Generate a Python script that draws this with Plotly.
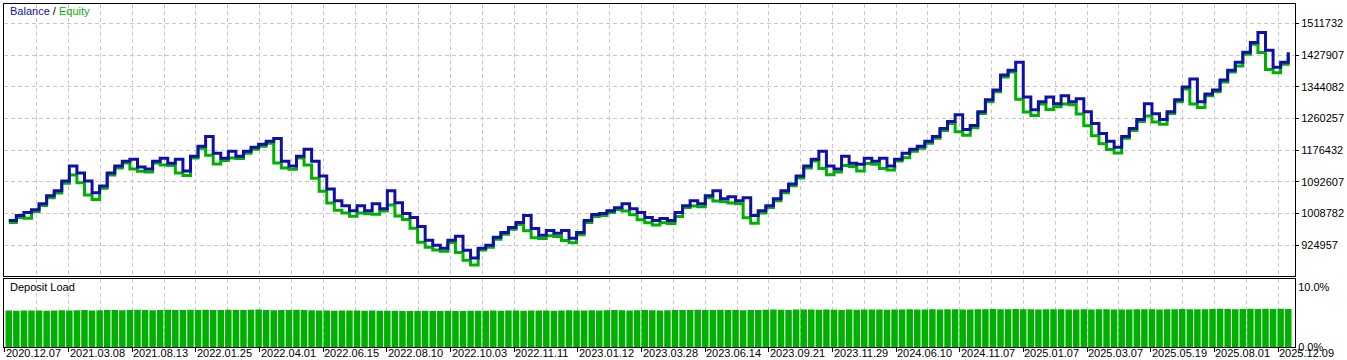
import plotly.graph_objects as go

# ---------------- data ----------------
balance_k = [
    990.4, 1003.5, 1011.4, 1019.2, 1035.0, 1055.9, 1069.0, 1095.2, 1134.5, 1116.1,
    1095.2, 1063.8, 1082.1, 1116.1, 1134.5, 1147.6, 1152.8, 1131.9, 1126.6, 1147.6,
    1155.4, 1142.3, 1152.8, 1121.4, 1160.7, 1186.9, 1213.1, 1168.5, 1155.4, 1173.8,
    1160.7, 1173.8, 1184.3, 1192.1, 1200.0, 1207.8, 1147.6, 1134.5, 1160.7, 1179.0,
    1147.6, 1108.3, 1074.2, 1042.8, 1029.7, 1016.6, 1029.7, 1016.6, 1035.0, 1021.8,
    1069.0, 1037.6, 1008.7, 998.3, 974.7, 938.0, 924.9, 917.1, 938.0, 948.5,
    911.8, 890.9, 917.1, 924.9, 945.9, 959.0, 972.1, 985.2, 1003.5, 969.5,
    951.1, 964.2, 956.4, 964.2, 943.3, 959.0, 990.4, 1006.1, 1008.7, 1016.6,
    1024.5, 1035.0, 1021.8, 1011.4, 998.3, 990.4, 995.6, 990.4, 1011.4, 1029.7,
    1042.8, 1035.0, 1055.9, 1069.0, 1048.0, 1053.3, 1042.8, 1050.7, 1003.5, 1016.6,
    1029.7, 1048.0, 1069.0, 1087.3, 1108.3, 1134.5, 1152.8, 1173.8, 1134.5, 1126.6,
    1160.7, 1142.3, 1139.7, 1155.4, 1147.6, 1155.4, 1134.5, 1152.8, 1168.5, 1179.0,
    1186.9, 1200.0, 1213.1, 1234.0, 1252.4, 1270.7, 1231.4, 1241.9, 1278.6, 1310.0,
    1336.2, 1375.5, 1388.6, 1409.5, 1317.8, 1283.8, 1304.8, 1317.8, 1299.5, 1320.5,
    1304.8, 1312.6, 1278.6, 1247.1, 1220.9, 1200.0, 1184.3, 1213.1, 1234.0, 1257.6,
    1299.5, 1273.3, 1257.6, 1278.6, 1310.0, 1344.0, 1365.0, 1304.8, 1325.7, 1336.2,
    1362.4, 1388.6, 1409.5, 1435.7, 1461.9, 1488.1, 1441.0, 1396.4, 1409.5, 1435.7,
]

equity_k = [
    985.4, 998.5, 996.4, 1014.2, 1030.0, 1050.9, 1063.0, 1089.2, 1111.1, 1090.2,
    1057.8, 1045.8, 1076.1, 1111.1, 1129.5, 1142.6, 1126.9, 1120.6, 1118.6, 1142.6,
    1137.3, 1136.3, 1116.4, 1109.4, 1155.7, 1181.9, 1163.5, 1140.4, 1149.4, 1155.7,
    1154.7, 1168.8, 1179.3, 1187.1, 1195.0, 1142.6, 1129.5, 1126.5, 1155.7, 1137.6,
    1102.3, 1068.2, 1036.8, 1017.7, 1010.6, 1001.6, 1010.6, 1008.6, 1006.8, 1015.8,
    1031.6, 1002.7, 993.3, 969.7, 933.0, 919.9, 912.1, 909.1, 932.0, 905.8,
    884.9, 872.9, 912.1, 919.9, 940.9, 954.0, 967.1, 980.2, 963.5, 945.1,
    943.1, 950.4, 948.4, 937.3, 931.3, 953.0, 985.4, 1001.1, 1003.7, 1011.6,
    1019.5, 1015.8, 1005.4, 992.3, 984.4, 978.4, 984.4, 982.4, 1001.4, 1024.7,
    1029.0, 1027.0, 1050.9, 1042.0, 1040.0, 1036.8, 1034.8, 997.5, 983.5, 1010.6,
    1024.7, 1043.0, 1064.0, 1082.3, 1103.3, 1129.5, 1147.8, 1128.5, 1111.6, 1118.6,
    1136.3, 1133.7, 1121.7, 1141.6, 1139.6, 1128.5, 1124.5, 1147.8, 1156.5, 1174.0,
    1181.9, 1195.0, 1208.1, 1229.0, 1247.4, 1225.4, 1216.4, 1235.9, 1273.6, 1305.0,
    1331.2, 1370.5, 1383.6, 1311.8, 1277.8, 1268.8, 1298.8, 1284.5, 1291.5, 1298.8,
    1296.8, 1272.6, 1241.1, 1214.9, 1194.0, 1178.3, 1169.3, 1208.1, 1229.0, 1252.6,
    1267.3, 1251.6, 1245.6, 1273.6, 1305.0, 1339.0, 1298.8, 1289.8, 1320.7, 1331.2,
    1357.4, 1383.6, 1399.5, 1430.7, 1456.9, 1435.0, 1390.4, 1381.4, 1404.5, 1431.7,
]

deposit_load = [
    6.10, 6.08, 6.10, 6.12, 6.10, 6.08, 6.11, 6.13, 6.10, 6.15,
    6.18, 6.12, 6.15, 6.20, 6.18, 6.16, 6.20, 6.22, 6.18, 6.15,
    6.20, 6.22, 6.20, 6.18, 6.22, 6.20, 6.24, 6.20, 6.18, 6.22,
    6.20, 6.18, 6.22, 6.25, 6.20, 6.15, 6.18, 6.20, 6.22, 6.18,
    6.15, 6.12, 6.10, 6.08, 6.10, 6.12, 6.10, 6.08, 6.10, 6.06,
    6.08, 6.05, 6.02, 6.00, 6.02, 6.05, 6.00, 6.02, 6.04, 6.00,
    6.02, 6.05, 6.08, 6.05, 6.10, 6.08, 6.12, 6.10, 6.08, 6.10,
    6.12, 6.10, 6.08, 6.12, 6.15, 6.12, 6.10, 6.15, 6.12, 6.15,
    6.18, 6.15, 6.12, 6.15, 6.18, 6.15, 6.12, 6.15, 6.18, 6.20,
    6.18, 6.22, 6.20, 6.18, 6.22, 6.20, 6.18, 6.15, 6.18, 6.20,
    6.22, 6.25, 6.22, 6.20, 6.25, 6.28, 6.25, 6.22, 6.25, 6.22,
    6.20, 6.25, 6.22, 6.25, 6.28, 6.25, 6.22, 6.25, 6.28, 6.30,
    6.25, 6.28, 6.30, 6.28, 6.32, 6.30, 6.28, 6.25, 6.30, 6.32,
    6.35, 6.32, 6.30, 6.35, 6.32, 6.30, 6.28, 6.30, 6.32, 6.30,
    6.28, 6.25, 6.30, 6.28, 6.32, 6.30, 6.28, 6.25, 6.28, 6.30,
    6.32, 6.30, 6.28, 6.30, 6.32, 6.35, 6.32, 6.30, 6.32, 6.35,
    6.38, 6.35, 6.32, 6.35, 6.38, 6.35, 6.38, 6.35, 6.38, 6.36,
]

date_labels = [
    "2020.12.07", "2021.03.08", "2021.08.13", "2022.01.25", "2022.04.01",
    "2022.06.15", "2022.08.10", "2022.10.03", "2022.11.11", "2023.01.12",
    "2023.03.28", "2023.06.14", "2023.09.21", "2023.11.29", "2024.06.10",
    "2024.11.07", "2025.01.07", "2025.03.07", "2025.05.19", "2025.08.01",
    "2025.12.09",
]

balance_ticks = [841132, 924957, 1008782, 1092607, 1176432,
                 1260257, 1344082, 1427907, 1511732]
load_ticks = [0, 10]
load_tick_text = ["0.0%", "10.0%"]

# ---------------- styling / geometry ----------------
W, H = 1347, 360
ML, MR, MT, MB = 3, 46, 3, 13
PW, PH = W - ML - MR, H - MT - MB

BLUE = "#1010A8"
GREEN = "#00B000"
GRID = "#C8C8C8"
FONT = "Liberation Sans Narrow, Liberation Sans, Arial, sans-serif"

def py_frac(py):
    return (H - MB - py) / PH

n = len(balance_k)
trades = list(range(n))
balance = [v * 1000 for v in balance_k]
equity = [v * 1000 for v in equity_k]

px_per_trade = 1294 / n
x_lo = -0.5 - 1 / px_per_trade
x_hi = n - 0.5 + 3 / px_per_trade
tick_step = 64 / px_per_trade

main_dom = [py_frac(276), 1.0]
load_dom = [0.0, py_frac(279)]

fig = go.Figure()
fig.add_trace(go.Scatter(x=trades, y=equity, mode="lines",
                         line=dict(color=GREEN, width=3, shape="hv"),
                         xaxis="x", yaxis="y", hoverinfo="skip"))
fig.add_trace(go.Scatter(x=trades, y=balance, mode="lines",
                         line=dict(color=BLUE, width=3, shape="hv"),
                         xaxis="x", yaxis="y", hoverinfo="skip"))
fig.add_trace(go.Bar(x=trades, y=deposit_load,
                     marker=dict(color=GREEN, line=dict(width=0)),
                     xaxis="x2", yaxis="y2", hoverinfo="skip"))

xcommon = dict(range=[x_lo, x_hi], tick0=-0.5, dtick=tick_step,
               showgrid=True, gridcolor=GRID, griddash="4px,3px", gridwidth=1,
               minor=dict(tick0=-0.5, dtick=tick_step / 2, showgrid=True,
                          gridcolor=GRID, griddash="4px,3px", gridwidth=1),
               showline=True, mirror=True, linecolor="black", linewidth=1,
               zeroline=False, showticklabels=False)

y_lo = 841132 + 0.7 * 2640
y_hi = 1511732 + 19.7 * 2640

fig.update_layout(
    width=W, height=H,
    margin=dict(l=ML, r=MR, t=MT, b=MB, pad=0),
    paper_bgcolor="white", plot_bgcolor="white",
    showlegend=False, bargap=0.14,
    font=dict(family=FONT, size=11, color="black"),
    xaxis=dict(anchor="y", domain=[0, 1], ticks="", **xcommon),
    xaxis2=dict(anchor="y2", domain=[0, 1], matches="x", ticks="outside",
                ticklen=4, tickcolor="black", tickwidth=1, **xcommon),
    yaxis=dict(anchor="x", domain=main_dom, side="right", range=[y_lo, y_hi],
               tickvals=balance_ticks, ticktext=[str(v) for v in balance_ticks],
               ticks="outside", ticklen=3, tickcolor="black",
               showgrid=True, gridcolor=GRID, griddash="4px,3px",
               showline=True, mirror=True, linecolor="black", linewidth=1,
               zeroline=False, tickfont=dict(family=FONT, size=11, color="black")),
    yaxis2=dict(anchor="x2", domain=load_dom, side="right", range=[0, 68 / 6],
                tickvals=load_ticks, ticktext=load_tick_text,
                ticks="", showgrid=False,
                showline=True, mirror=True, linecolor="black", linewidth=1,
                zeroline=False, tickfont=dict(family=FONT, size=11, color="black")),
)

ann = []
ann.append(dict(xref="paper", yref="paper", x=(7 - ML) / PW, y=py_frac(10),
                xanchor="left", yanchor="middle", showarrow=False,
                text=f"<span style='color:{BLUE}'>Balance</span> / "
                     f"<span style='color:{GREEN}'>Equity</span>",
                font=dict(family=FONT, size=11)))
ann.append(dict(xref="paper", yref="paper", x=(7 - ML) / PW, y=py_frac(287),
                xanchor="left", yanchor="middle", showarrow=False,
                text="Deposit Load", font=dict(family=FONT, size=11, color="black")))
for k, lab in enumerate(date_labels):
    ann.append(dict(xref="x2", yref="paper", x=-0.5 + k * tick_step, y=py_frac(353),
                    xanchor="left", yanchor="middle", showarrow=False, text=lab,
                    xshift=-1, font=dict(family=FONT, size=11, color="black")))
fig.update_layout(annotations=ann)

fig.write_html("out.html")
